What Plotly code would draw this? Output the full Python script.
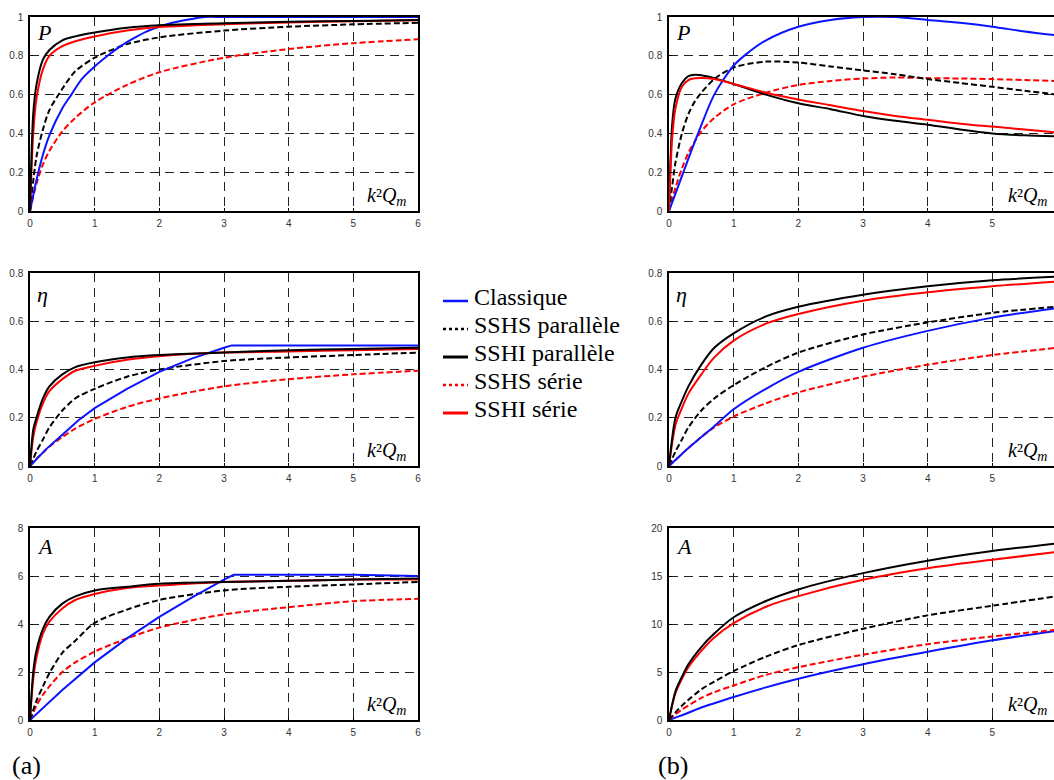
import plotly.graph_objects as go

# ---------------- data : panel (a) ----------------
a_P_cl_x = [0, 0.1, 0.2, 0.3, 0.5, 0.64, 0.8, 1, 1.2, 1.4, 1.6, 1.8, 2, 2.2, 2.5, 2.7, 3, 4, 5, 6]
a_P_cl_y = [0, 0.16, 0.29, 0.39, 0.53, 0.6, 0.68, 0.745, 0.8, 0.85, 0.89, 0.925, 0.95, 0.97, 0.99, 1.0, 1.0, 1.0, 1.0, 1.0]
a_P_hip_x = [0, 0.05, 0.1, 0.2, 0.3, 0.5, 0.7, 1, 1.5, 2, 3, 4, 5, 6]
a_P_hip_y = [0, 0.5, 0.65, 0.78, 0.83, 0.88, 0.9, 0.92, 0.945, 0.958, 0.968, 0.975, 0.98, 0.985]
a_P_his_y = [0, 0.4, 0.58, 0.73, 0.8, 0.85, 0.875, 0.9, 0.93, 0.948, 0.963, 0.972, 0.978, 0.983]
a_P_hsp_x = [0, 0.1, 0.2, 0.3, 0.5, 0.7, 1, 1.5, 2, 3, 4, 5, 6]
a_P_hsp_y = [0, 0.28, 0.42, 0.52, 0.63, 0.72, 0.79, 0.86, 0.895, 0.93, 0.95, 0.962, 0.97]
a_P_hss_y = [0, 0.14, 0.24, 0.31, 0.41, 0.48, 0.56, 0.65, 0.715, 0.79, 0.835, 0.865, 0.885]

a_E_cl_x = [0, 0.25, 0.5, 0.75, 1, 1.5, 2, 2.5, 3, 3.12, 4, 5, 6]
a_E_cl_y = [0, 0.07, 0.13, 0.19, 0.24, 0.32, 0.39, 0.445, 0.49, 0.5, 0.5, 0.5, 0.5]
a_E_hip_y = [0, 0.15, 0.2, 0.28, 0.33, 0.38, 0.41, 0.43, 0.45, 0.46, 0.47, 0.48, 0.485, 0.49]
a_E_his_y = [0, 0.12, 0.18, 0.26, 0.31, 0.36, 0.395, 0.415, 0.44, 0.455, 0.47, 0.475, 0.48, 0.485]
a_E_hsp_y = [0, 0.06, 0.11, 0.16, 0.23, 0.28, 0.32, 0.37, 0.4, 0.435, 0.45, 0.46, 0.47]
a_E_hss_y = [0, 0.03, 0.055, 0.08, 0.12, 0.155, 0.195, 0.245, 0.28, 0.33, 0.36, 0.38, 0.395]

a_A_cl_x = [0, 0.5, 1, 1.5, 2, 2.5, 3, 3.15, 4, 5, 6]
a_A_cl_y = [0, 1.25, 2.4, 3.4, 4.3, 5.1, 5.85, 6.05, 6.05, 6.05, 6.0]
a_A_hip_y = [0, 2.0, 2.9, 3.8, 4.3, 4.85, 5.15, 5.4, 5.55, 5.68, 5.75, 5.8, 5.85, 5.9]
a_A_his_y = [0, 1.7, 2.6, 3.6, 4.1, 4.65, 5.0, 5.25, 5.5, 5.6, 5.75, 5.8, 5.85, 5.85]
a_A_hsp_y = [0, 0.8, 1.4, 1.95, 2.8, 3.3, 4.05, 4.6, 5.0, 5.4, 5.55, 5.65, 5.75]
a_A_hss_y = [0, 0.6, 1.05, 1.4, 2.0, 2.4, 2.85, 3.4, 3.85, 4.4, 4.7, 4.95, 5.05]

# ---------------- data : panel (b) ----------------
b_P_x = [0, 0.05, 0.1, 0.2, 0.3, 0.4, 0.5, 0.7, 1, 1.5, 2, 2.5, 3, 3.5, 4, 4.5, 5, 5.5, 6]
b_P_cl_x = [0, 0.1, 0.2, 0.3, 0.45, 0.7, 1, 1.2, 1.5, 2, 2.5, 3, 3.5, 4, 4.5, 5, 5.5, 6]
b_P_cl_y = [0, 0.09, 0.18, 0.27, 0.4, 0.6, 0.75, 0.81, 0.88, 0.95, 0.985, 1.0, 1.0, 0.985, 0.97, 0.95, 0.925, 0.905]
b_P_hip_y = [0, 0.45, 0.58, 0.66, 0.695, 0.702, 0.7, 0.685, 0.655, 0.6, 0.555, 0.525, 0.49, 0.465, 0.445, 0.42, 0.4, 0.39, 0.385]
b_P_his_y = [0, 0.38, 0.53, 0.64, 0.675, 0.684, 0.686, 0.68, 0.655, 0.61, 0.575, 0.545, 0.515, 0.49, 0.47, 0.45, 0.435, 0.42, 0.405]
b_P_hsp_y = [0, 0.13, 0.25, 0.4, 0.5, 0.565, 0.61, 0.68, 0.74, 0.77, 0.765, 0.745, 0.725, 0.705, 0.68, 0.66, 0.64, 0.62, 0.6]
b_P_hss_y = [0, 0.06, 0.12, 0.22, 0.3, 0.36, 0.41, 0.48, 0.55, 0.61, 0.65, 0.67, 0.683, 0.688, 0.685, 0.683, 0.68, 0.675, 0.67]

b_x = [0, 0.1, 0.2, 0.3, 0.5, 0.7, 1, 1.5, 2, 3, 4, 5, 6]
b_E_cl_y = [0, 0.025, 0.05, 0.075, 0.12, 0.165, 0.235, 0.32, 0.39, 0.49, 0.56, 0.615, 0.655]
b_E_hip_y = [0, 0.2, 0.27, 0.33, 0.42, 0.49, 0.55, 0.62, 0.66, 0.71, 0.745, 0.77, 0.785]
b_E_his_y = [0, 0.17, 0.24, 0.3, 0.38, 0.45, 0.52, 0.59, 0.63, 0.685, 0.72, 0.745, 0.765]
b_E_hsp_y = [0, 0.06, 0.11, 0.16, 0.23, 0.28, 0.335, 0.41, 0.47, 0.545, 0.595, 0.635, 0.66]
b_E_hss_y = [0, 0.025, 0.05, 0.075, 0.12, 0.16, 0.205, 0.26, 0.305, 0.37, 0.42, 0.46, 0.49]

b_A_cl_y = [0, 0.25, 0.5, 0.75, 1.3, 1.75, 2.4, 3.4, 4.3, 5.8, 7.1, 8.3, 9.3]
b_A_hip_y = [0, 3.0, 4.5, 5.8, 7.6, 9.0, 10.7, 12.4, 13.6, 15.3, 16.6, 17.6, 18.4]
b_A_his_y = [0, 2.8, 4.3, 5.5, 7.2, 8.6, 10.1, 11.8, 12.9, 14.6, 15.8, 16.7, 17.5]
b_A_hsp_y = [0, 0.8, 1.5, 2.1, 3.2, 4.0, 5.1, 6.6, 7.8, 9.5, 10.9, 11.9, 12.9]
b_A_hss_y = [0, 0.6, 1.1, 1.5, 2.3, 2.9, 3.6, 4.7, 5.5, 6.8, 7.9, 8.7, 9.4]

legend_names = ["Classique", "SSHS parallèle", "SSHI parallèle", "SSHS série", "SSHI série"]
panel_labels = ["P", "η", "A"]
y_ticks_a = [[0, 0.2, 0.4, 0.6, 0.8, 1], [0, 0.2, 0.4, 0.6, 0.8], [0, 2, 4, 6, 8]]
y_ticks_b = [[0, 0.2, 0.4, 0.6, 0.8, 1], [0, 0.2, 0.4, 0.6, 0.8], [0, 5, 10, 15, 20]]
x_ticks = [0, 1, 2, 3, 4, 5, 6]

# ---------------- styles ----------------
BLUE, BLACK, RED = "#0a14ff", "#000000", "#ff0000"
STYLE = {
    "cl": dict(color=BLUE, width=2, dash="solid"),
    "hsp": dict(color=BLACK, width=2, dash="6px,3px"),
    "hip": dict(color=BLACK, width=2, dash="solid"),
    "hss": dict(color=RED, width=2, dash="6px,3px"),
    "his": dict(color=RED, width=2, dash="solid"),
}
SERIF = "Liberation Serif"
SANS = "Liberation Sans"

W, H = 1054, 780
LX = (30, 418)
RX0 = 669
PX_PER_UNIT = (418 - 30) / 6.0
ROWS = [(17, 211), (273, 466), (528, 720)]
y_ranges_a = [[0, 1], [0, 0.8], [0, 8]]
y_ranges_b = [[0, 1], [0, 0.8], [0, 20]]
right_xmax = (W - RX0) / PX_PER_UNIT

fig = go.Figure()

def px_x(p):
    return p / W

def px_y(p):
    return 1 - p / H

panels = []
idx = 0
for r in range(3):
    for c in range(2):
        idx += 1
        panels.append((r, c, idx))

grid_kw = dict(showgrid=True, gridcolor="#222", gridwidth=1, griddash="9px,6px",
               showline=True, linecolor="black", linewidth=1.5, zeroline=False,
               ticks="inside", ticklen=3, tickcolor="black", automargin=False,
               tickfont=dict(family=SANS, size=10, color="#333"))

for (r, c, i) in panels:
    xa = "xaxis" if i == 1 else f"xaxis{i}"
    ya = "yaxis" if i == 1 else f"yaxis{i}"
    top, bot = ROWS[r]
    if c == 0:
        xdom = [px_x(LX[0]), px_x(LX[1])]
        xr = [0, 6]
        yr = y_ranges_a[r]
        yt = y_ticks_a[r]
    else:
        xdom = [px_x(RX0), 1.0]
        xr = [0, right_xmax]
        yr = y_ranges_b[r]
        yt = y_ticks_b[r]
    fig.layout[xa] = dict(domain=xdom, range=xr, tickvals=x_ticks, anchor=f"y{i}" if i > 1 else "y",
                          mirror=True, ticklabelstandoff=2, **grid_kw)
    fig.layout[ya] = dict(domain=[px_y(bot), px_y(top)], range=yr, tickvals=yt,
                          anchor=f"x{i}" if i > 1 else "x",
                          mirror=(c == 0), ticklabelstandoff=3, **grid_kw)

def add(i, x, y, key, shape="spline"):
    st = STYLE[key]
    line = dict(color=st["color"], width=st["width"], dash=st["dash"], shape=shape)
    if shape == "spline":
        line["smoothing"] = 0.8
    fig.add_trace(go.Scatter(
        x=x, y=y, mode="lines", showlegend=False, cliponaxis=True, line=line,
        xaxis=f"x{i}" if i > 1 else "x", yaxis=f"y{i}" if i > 1 else "y"))

# panel (a)
add(1, a_P_hsp_x, a_P_hss_y, "hss")
add(1, a_P_hsp_x, a_P_hsp_y, "hsp")
add(1, a_P_cl_x, a_P_cl_y, "cl")
add(1, a_P_hip_x, a_P_his_y, "his")
add(1, a_P_hip_x, a_P_hip_y, "hip")

add(3, a_P_hsp_x, a_E_hss_y, "hss")
add(3, a_P_hsp_x, a_E_hsp_y, "hsp")
add(3, a_E_cl_x, a_E_cl_y, "cl", shape="linear")
add(3, a_P_hip_x, a_E_his_y, "his")
add(3, a_P_hip_x, a_E_hip_y, "hip")

add(5, a_P_hsp_x, a_A_hss_y, "hss")
add(5, a_P_hsp_x, a_A_hsp_y, "hsp")
add(5, a_A_cl_x, a_A_cl_y, "cl", shape="linear")
add(5, a_P_hip_x, a_A_his_y, "his")
add(5, a_P_hip_x, a_A_hip_y, "hip")

# panel (b)
add(2, b_P_x, b_P_hss_y, "hss")
add(2, b_P_x, b_P_hsp_y, "hsp")
add(2, b_P_cl_x, b_P_cl_y, "cl")
add(2, b_P_x, b_P_hip_y, "hip")
add(2, b_P_x, b_P_his_y, "his")

add(4, b_x, b_E_hss_y, "hss")
add(4, b_x, b_E_hsp_y, "hsp")
add(4, b_x, b_E_cl_y, "cl")
add(4, b_x, b_E_his_y, "his")
add(4, b_x, b_E_hip_y, "hip")

add(6, b_x, b_A_cl_y, "cl")
add(6, b_x, b_A_hss_y, "hss")
add(6, b_x, b_A_hsp_y, "hsp")
add(6, b_x, b_A_his_y, "his")
add(6, b_x, b_A_hip_y, "hip")

annotations = []
shapes = []
label_y = [0.92, 0.89, 0.905]
for (r, c, i) in panels:
    xd = "x domain" if i == 1 else f"x{i} domain"
    yd = "y domain" if i == 1 else f"y{i} domain"
    annotations.append(dict(text=f"<i>{panel_labels[r]}</i>", xref=xd, yref=yd,
                            x=0.012, y=label_y[r], xanchor="left", yanchor="middle",
                            showarrow=False, font=dict(family=SERIF, size=22, color="black")))
    kx = 0.975 if c == 0 else (1049 - RX0) / (W - RX0)
    annotations.append(dict(text="<i>k</i>²<i>Q<sub>m</sub></i>", xref=xd, yref=yd,
                            x=kx, y=0.075, xanchor="right", yanchor="middle",
                            showarrow=False, font=dict(family=SERIF, size=20, color="black")))

annotations.append(dict(text="(a)", xref="paper", yref="paper", x=px_x(10), y=px_y(765),
                        xanchor="left", yanchor="middle", showarrow=False,
                        font=dict(family=SERIF, size=26, color="black")))
annotations.append(dict(text="(b)", xref="paper", yref="paper", x=px_x(656), y=px_y(765),
                        xanchor="left", yanchor="middle", showarrow=False,
                        font=dict(family=SERIF, size=26, color="black")))

# manual legend
leg_keys = ["cl", "hsp", "hip", "hss", "his"]
leg_dash = {"cl": "solid", "hsp": "dot", "hip": "solid", "hss": "dot", "his": "solid"}
leg_width = {"cl": 2.5, "hsp": 2.5, "hip": 3, "hss": 2.5, "his": 3}
for k, (key, name) in enumerate(zip(leg_keys, legend_names)):
    yy = 301 + 28 * k
    shapes.append(dict(type="line", xref="paper", yref="paper",
                       x0=px_x(443), x1=px_x(468), y0=px_y(yy), y1=px_y(yy),
                       line=dict(color=STYLE[key]["color"], width=leg_width[key], dash=leg_dash[key])))
    annotations.append(dict(text=name, xref="paper", yref="paper", x=px_x(472), y=px_y(yy - 4),
                            xanchor="left", yanchor="middle", showarrow=False,
                            font=dict(family=SERIF, size=24, color="black")))

fig.update_layout(width=W, height=H, margin=dict(l=0, r=0, t=0, b=0),
                  template="none", paper_bgcolor="white", plot_bgcolor="white",
                  font=dict(family=SANS, size=10, color="#333"),
                  showlegend=False, annotations=annotations, shapes=shapes)

fig.write_html("out.html", config={"displayModeBar": False},
               post_script="document.body.style.margin='0';")
